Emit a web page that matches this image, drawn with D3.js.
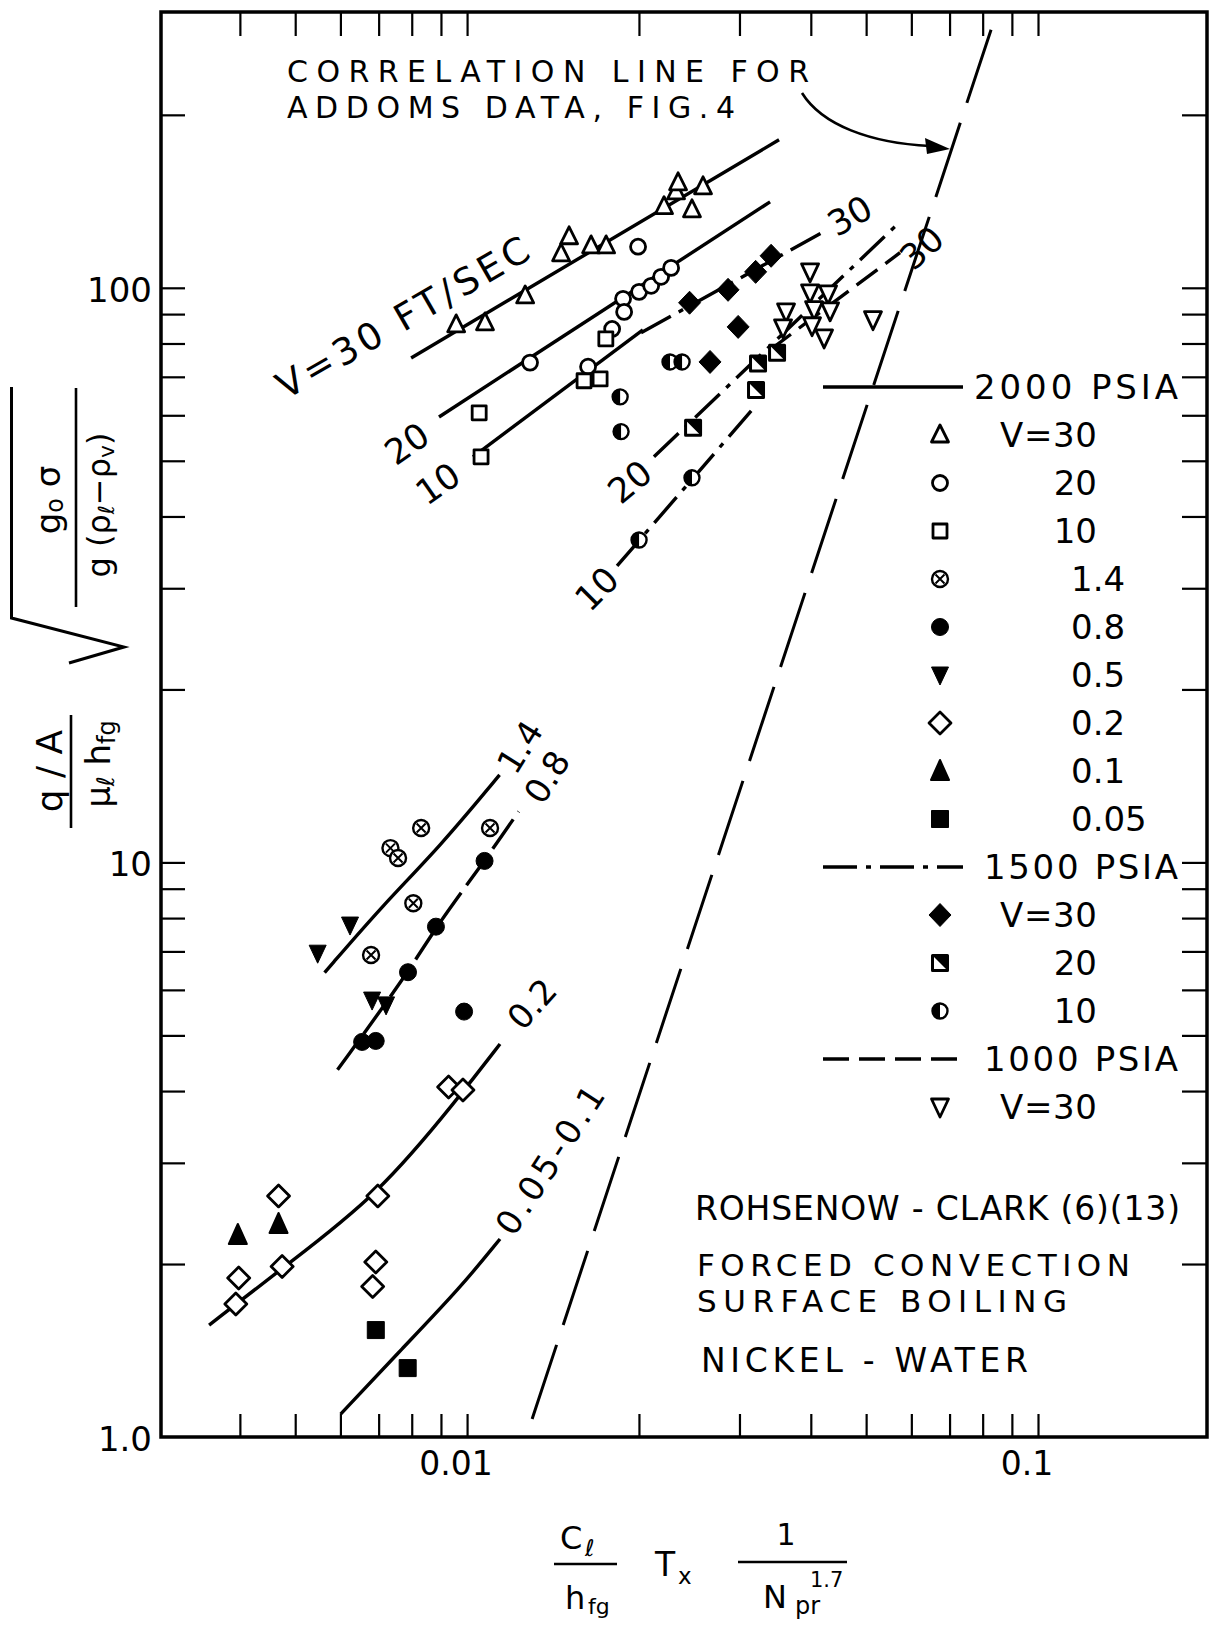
<!DOCTYPE html>
<html>
<head>
<meta charset="utf-8">
<script src="https://cdn.jsdelivr.net/npm/d3@7"></script>
<style>
  body { margin: 0; background: #fff; }
  svg { display: block; }
  text { font-family: "DejaVu Sans", sans-serif; fill: #000; }
</style>
</head>
<body>
<svg id="chart"></svg>
<script>
// axes
const xTicks = [0.004, 0.005, 0.006, 0.007, 0.008, 0.009, 0.01, 0.02, 0.03, 0.04, 0.05, 0.06, 0.07, 0.08, 0.09, 0.1];
const yTicks = [2, 3, 4, 5, 6, 7, 8, 9, 10, 20, 30, 40, 50, 60, 70, 80, 90, 100, 200];
const xLabelValues = [0.01, 0.1];
const xLabelTexts = ["0.01", "0.1"];
const yLabelValues = [1, 10, 100];
const yLabelTexts = ["1.0", "10", "100"];

// 2000 psia points  [x, y]
const p2000v30 = [[0.00957, 86.2], [0.01075, 86.9], [0.01264, 96.8], [0.01461, 114.6], [0.01509, 122.7],
  [0.01649, 118.3], [0.01752, 118.3], [0.02213, 138.4], [0.02323, 146.9], [0.02342, 152.3], [0.02477, 136.7], [0.02590, 149.9]];
const p2000v20 = [[0.01289, 74.1], [0.01629, 72.9], [0.01795, 84.8], [0.01876, 95.7], [0.01884, 90.8], [0.02001, 98.4],
  [0.02101, 100.8], [0.02187, 104.5], [0.02277, 108.3], [0.01993, 117.9]];
const p2000v10 = [[0.01058, 50.8], [0.01050, 60.6], [0.01603, 68.9], [0.01710, 69.4], [0.01750, 81.5]];
const p2000v14 = [[0.007341, 10.59], [0.00757, 10.18], [0.008309, 11.48], [0.008051, 8.49], [0.006789, 6.90], [0.01097, 11.48]];
const p2000v08 = [[0.006549, 4.87], [0.006918, 4.89], [0.00788, 6.44], [0.00882, 7.73], [0.01073, 10.06], [0.00988, 5.50]];
const p2000v05 = [[0.005474, 6.95], [0.006237, 7.78], [0.006818, 5.76], [0.007213, 5.65]];
const p2000v02 = [[0.003935, 1.704], [0.003981, 1.891], [0.004743, 1.981], [0.004675, 2.628], [0.006977, 2.628],
  [0.00692, 2.017], [0.006833, 1.828], [0.009282, 4.067], [0.009836, 4.018]];
const p2000v01 = [[0.003967, 2.247], [0.004675, 2.348]];
const p2000v005 = [[0.00692, 1.535], [0.00787, 1.318]];
// 1500 psia points
const p1500v30 = [[0.02453, 94.2], [0.02865, 99.2], [0.02984, 85.5], [0.03202, 106.6], [0.03408, 113.7], [0.02664, 74.3]];
const p1500v20 = [[0.02488, 57.1], [0.03207, 66.4], [0.03233, 73.8], [0.03491, 77.1]];
const p1500v10 = [[0.01854, 64.6], [0.01861, 56.2], [0.02267, 74.3], [0.0238, 74.3], [0.02001, 36.4], [0.02477, 46.7]];
// 1000 psia points
const p1000v30 = [[0.03988, 106.6], [0.0362, 90.8], [0.03576, 85.2], [0.03988, 98.0], [0.04053, 91.6], [0.0402, 85.9],
  [0.0422, 81.8], [0.04288, 97.6], [0.04323, 91.2], [0.0514, 88.0]];

// correlation curves
const c2000v30 = [[0.00798, 75.5], [0.03519, 181]];
const c2000v20 = [[0.00893, 59.6], [0.03394, 141.1]];
const c2000v10 = [[0.01024, 50.8], [0.02032, 84.5]];
const c2000v14 = [[0.005629, 6.43], [0.00712, 8.43], [0.00897, 10.66], [0.0114, 14.2]];
const c2000v08 = [[0.00593, 4.355], [0.00791, 6.456], [0.00882, 7.73], [0.01071, 10.03], [0.01231, 12.26]];
const c2000v02 = [[0.003533, 1.566], [0.004775, 1.977], [0.006977, 2.628], [0.00972, 3.923], [0.01142, 4.83]];
const c2000v005 = [[0.006005, 1.096], [0.007712, 1.428], [0.00972, 1.816], [0.01142, 2.211]];
const c1500v30 = [[0.02017, 83.5], [0.04185, 124.7]];
const c1500v20 = [[0.02125, 50.8], [0.05686, 129.3]];
const c1500v10 = [[0.01831, 32.8], [0.03156, 61.3]];
const c1000v30 = [[0.03394, 78.0], [0.05732, 115.1]];
const addoms = [[0.013, 1.075], [0.08275, 281.3]];

const legendLabels = ["2000 PSIA", "V=30", "20", "10", "1.4", "0.8", "0.5", "0.2", "0.1", "0.05",
  "1500 PSIA", "V=30", "20", "10", "1000 PSIA", "V=30"];
const legendKinds = ["solid", "triOpen", "circOpen", "sqOpen", "circCross", "circFill", "triDownFill", "diaOpen",
  "triFill", "sqFill", "dashdot", "diaFill", "sqHalf", "circHalf", "dashed", "triDownOpen"];

const W = 1210, H = 1627;
const frame = { left: 161, right: 1207, top: 12, bottom: 1437 };

const svg = d3.select("#chart").attr("width", W).attr("height", H);
svg.append("rect").attr("width", W).attr("height", H).attr("fill", "#fff");

const x = d3.scaleLog().domain([0.00291, 0.1977]).range([frame.left, frame.right]);
const y = d3.scaleLog().domain([1, 302]).range([frame.bottom, frame.top]);

const dashes = { solid: null, dashdot: "34,9,5,9", dashed: "26,10", longdash: "36,9", addoms: "78,21" };

// ticks (pointing inward)
function tickStyle(g) {
  g.select(".domain").remove();
  g.selectAll(".tick line").attr("stroke", "#000").attr("stroke-width", 2.2);
}
svg.append("g").attr("transform", `translate(0,${frame.bottom})`)
  .call(d3.axisBottom(x).tickValues(xTicks).tickSize(-23).tickFormat("")).call(tickStyle);
svg.append("g").attr("transform", `translate(0,${frame.top})`)
  .call(d3.axisTop(x).tickValues(xTicks).tickSize(-24).tickFormat("")).call(tickStyle);
svg.append("g").attr("transform", `translate(${frame.left},0)`)
  .call(d3.axisLeft(y).tickValues(yTicks).tickSize(-24).tickFormat("")).call(tickStyle);
svg.append("g").attr("transform", `translate(${frame.right},0)`)
  .call(d3.axisRight(y).tickValues(yTicks).tickSize(-25).tickFormat("")).call(tickStyle);

svg.append("rect")
  .attr("x", frame.left).attr("y", frame.top)
  .attr("width", frame.right - frame.left).attr("height", frame.bottom - frame.top)
  .attr("fill", "none").attr("stroke", "#000").attr("stroke-width", 3.5);

// tick labels
svg.selectAll(".xlab").data(xLabelValues).join("text")
  .attr("x", d => x(d) - 11).attr("y", frame.bottom + 38)
  .attr("text-anchor", "middle").attr("font-size", 33)
  .text((d, i) => xLabelTexts[i]);
svg.selectAll(".ylab").data(yLabelValues).join("text")
  .attr("x", frame.left - 9).attr("y", d => y(d) + 14)
  .attr("text-anchor", "end").attr("font-size", 34)
  .text((d, i) => yLabelTexts[i]);

// lines
const line = d3.line().x(d => x(d[0])).y(d => y(d[1])).curve(d3.curveBasis);
function drawLine(data, dash, width) {
  svg.append("path").datum(data).attr("d", line)
    .attr("fill", "none").attr("stroke", "#000")
    .attr("stroke-width", width || 3.4)
    .attr("stroke-dasharray", dash);
}
drawLine(addoms, dashes.addoms, 3);
drawLine(c2000v30, dashes.solid);
drawLine(c2000v20, dashes.solid);
drawLine(c2000v10, dashes.solid);
drawLine(c2000v14, dashes.solid);
drawLine(c2000v08, dashes.longdash);
drawLine(c2000v02, dashes.solid);
drawLine(c2000v005, dashes.solid);
drawLine(c1500v30, dashes.dashdot);
drawLine(c1500v20, dashes.dashdot);
drawLine(c1500v10, dashes.dashdot);
drawLine(c1000v30, dashes.dashed);

// markers
function drawMarker(g, type, px, py) {
  const m = g.append("g").attr("transform", `translate(${px},${py})`);
  const open = { fill: "#fff", stroke: "#000", "stroke-width": 2.8, "stroke-linejoin": "round" };
  const solid = { fill: "#000", stroke: "#000", "stroke-width": 1, "stroke-linejoin": "round" };
  const apply = (el, st) => { Object.entries(st).forEach(([k, v]) => el.attr(k, v)); return el; };
  switch (type) {
    case "triOpen": apply(m.append("path").attr("d", "M0,-10L8.5,7L-8.5,7Z"), open); break;
    case "circOpen": apply(m.append("circle").attr("r", 7.5), open); break;
    case "sqOpen": apply(m.append("rect").attr("x", -7).attr("y", -7).attr("width", 14).attr("height", 14), open); break;
    case "circCross":
      apply(m.append("circle").attr("r", 8), open).attr("stroke-width", 2.4);
      m.append("path").attr("d", "M-4.5,-4.5L4.5,4.5M4.5,-4.5L-4.5,4.5").attr("stroke", "#000").attr("stroke-width", 2);
      break;
    case "circFill": apply(m.append("circle").attr("r", 8.5), solid); break;
    case "triDownFill": apply(m.append("path").attr("d", "M0,10L8.5,-8L-8.5,-8Z"), solid); break;
    case "diaOpen": apply(m.append("path").attr("d", "M0,-11L11,0L0,11L-11,0Z"), open); break;
    case "triFill": apply(m.append("path").attr("d", "M0,-11L9,9L-9,9Z"), solid).attr("stroke-width", 2); break;
    case "sqFill": apply(m.append("rect").attr("x", -8.5).attr("y", -8.5).attr("width", 17).attr("height", 17), solid); break;
    case "diaFill": apply(m.append("path").attr("d", "M0,-11.5L11,0L0,11.5L-11,0Z"), solid); break;
    case "sqHalf":
      apply(m.append("rect").attr("x", -7.5).attr("y", -7.5).attr("width", 15).attr("height", 15), open).attr("stroke-width", 3);
      m.append("path").attr("d", "M-7.5,-7.5L7.5,-7.5L7.5,7.5Z").attr("fill", "#000");
      break;
    case "circHalf":
      apply(m.append("circle").attr("r", 7.5), open).attr("stroke-width", 2.4);
      m.append("path").attr("d", "M0,-7.5A7.5,7.5 0 0 0 0,7.5Z").attr("fill", "#000");
      break;
    case "triDownOpen": apply(m.append("path").attr("d", "M0,10L8.5,-8L-8.5,-8Z"), open); break;
  }
}
const gPts = svg.append("g");
function drawSeries(data, type) {
  data.forEach(d => drawMarker(gPts, type, x(d[0]), y(d[1])));
}
drawSeries(p2000v30, "triOpen");
drawSeries(p2000v20, "circOpen");
drawSeries(p2000v10, "sqOpen");
drawSeries(p2000v14, "circCross");
drawSeries(p2000v08, "circFill");
drawSeries(p2000v05, "triDownFill");
drawSeries(p2000v02, "diaOpen");
drawSeries(p2000v01, "triFill");
drawSeries(p2000v005, "sqFill");
drawSeries(p1500v30, "diaFill");
drawSeries(p1500v20, "sqHalf");
drawSeries(p1500v10, "circHalf");
drawSeries(p1000v30, "triDownOpen");

// curve labels
function rotLabel(txt, cx, cy, angle, size, len) {
  const t = svg.append("text")
    .attr("transform", `translate(${cx},${cy}) rotate(${angle})`)
    .attr("text-anchor", "middle").attr("dominant-baseline", "central")
    .attr("font-size", size || 35).text(txt);
  if (len) t.attr("textLength", len).attr("lengthAdjust", "spacing");
}
rotLabel("V=30 FT/SEC", 403, 318, -30, 37, 285);
rotLabel("20", 407, 444, -35);
rotLabel("10", 438, 484, -35);
rotLabel("30", 850, 216, -30);
rotLabel("30", 922, 248, -42);
rotLabel("20", 630, 482, -40);
rotLabel("10", 597, 589, -45);
rotLabel("1.4", 520, 747, -58, 34);
rotLabel("0.8", 547, 777, -58, 34);
rotLabel("0.2", 532, 1004, -48, 34);
rotLabel("0.05-0.1", 550, 1160, -57, 34, 170);

// legend
const legendX0 = 823, legendX1 = 963, legendMarkX = 940, legendY0 = 387, legendStep = 48;
legendLabels.forEach((lab, i) => {
  const yy = legendY0 + i * legendStep;
  const kind = legendKinds[i];
  if (kind in dashes) {
    svg.append("line").attr("x1", legendX0).attr("x2", legendX1).attr("y1", yy).attr("y2", yy)
      .attr("stroke", "#000").attr("stroke-width", 3.6).attr("stroke-dasharray", dashes[kind]);
  } else {
    drawMarker(svg, kind, legendMarkX, yy);
  }
  const t = svg.append("text").attr("y", yy + 12).attr("font-size", 34).text(lab);
  if (lab.includes("PSIA")) {
    t.attr("x", 1178).attr("text-anchor", "end").attr("textLength", lab[0] === "2" ? 204 : 194).attr("lengthAdjust", "spacing");
  } else if (lab.startsWith("V")) {
    t.attr("x", 1000).attr("textLength", 97).attr("lengthAdjust", "spacing");
  } else if (+lab >= 10) {
    t.attr("x", 1097).attr("text-anchor", "end");
  } else {
    t.attr("x", 1071);
  }
});

// annotations
function note(txt, x0, base, len, size) {
  svg.append("text").attr("x", x0).attr("y", base).attr("font-size", size)
    .attr("textLength", len).attr("lengthAdjust", "spacing").text(txt);
}
note("CORRELATION LINE FOR", 287, 82, 522, 30);
note("ADDOMS DATA, FIG.4", 287, 118, 448, 30);
note("ROHSENOW - CLARK (6)(13)", 695, 1220, 485, 33);
note("FORCED  CONVECTION", 697, 1276, 433, 31);
note("SURFACE  BOILING", 697, 1312, 370, 31);
note("NICKEL - WATER", 701, 1372, 327, 33);

// arrow to the correlation line
svg.append("path").attr("d", "M802,93 C822,125 870,143 930,146")
  .attr("fill", "none").attr("stroke", "#000").attr("stroke-width", 2.6);
svg.append("path").attr("d", "M950,149 L925,138 L927,154 Z").attr("fill", "#000");

// x axis title
const xt = svg.append("g");
xt.append("text").attr("x", 560).attr("y", 1549).attr("font-size", 32).text("C");
xt.append("text").attr("x", 585).attr("y", 1556).attr("font-size", 23).attr("font-style", "italic").text("ℓ");
xt.append("line").attr("x1", 554).attr("x2", 617).attr("y1", 1564).attr("y2", 1564).attr("stroke", "#000").attr("stroke-width", 2.6);
xt.append("text").attr("x", 565).attr("y", 1609).attr("font-size", 32).text("h");
xt.append("text").attr("x", 588).attr("y", 1614).attr("font-size", 22).text("fg");
xt.append("text").attr("x", 655).attr("y", 1576).attr("font-size", 33).text("T");
xt.append("text").attr("x", 678).attr("y", 1584).attr("font-size", 23).text("x");
xt.append("text").attr("x", 786).attr("y", 1545).attr("text-anchor", "middle").attr("font-size", 30).text("1");
xt.append("line").attr("x1", 738).attr("x2", 847).attr("y1", 1562).attr("y2", 1562).attr("stroke", "#000").attr("stroke-width", 2.6);
xt.append("text").attr("x", 763).attr("y", 1608).attr("font-size", 32).text("N");
xt.append("text").attr("x", 810).attr("y", 1587).attr("font-size", 21).text("1.7");
xt.append("text").attr("x", 795).attr("y", 1614).attr("font-size", 24).text("pr");

// y axis title (rotated)
const yt = svg.append("g").attr("transform", "rotate(-90)");
// group coords: (gx, gy) -> page (gy, -gx)
yt.append("text").attr("x", -771).attr("y", 62).attr("text-anchor", "middle").attr("font-size", 36).text("q / A");
yt.append("line").attr("x1", -828).attr("x2", -715).attr("y1", 71).attr("y2", 71).attr("stroke", "#000").attr("stroke-width", 2.6);
yt.append("text").attr("x", -764).attr("y", 110).attr("text-anchor", "middle").attr("font-size", 34)
  .html('μ<tspan font-size="24" font-style="italic" dy="4">ℓ</tspan><tspan dy="-4"> h</tspan><tspan font-size="24" dy="5">fg</tspan>');
yt.append("text").attr("x", -500).attr("y", 60).attr("text-anchor", "middle").attr("font-size", 34)
  .html('g<tspan font-size="24" dy="3">o</tspan><tspan dy="-3"> σ</tspan>');
yt.append("line").attr("x1", -607).attr("x2", -388).attr("y1", 76).attr("y2", 76).attr("stroke", "#000").attr("stroke-width", 2.6);
yt.append("text").attr("x", -505).attr("y", 110).attr("text-anchor", "middle").attr("font-size", 32)
  .html('g (ρ<tspan font-size="22" font-style="italic" dy="4">ℓ</tspan><tspan dy="-4">−ρ</tspan><tspan font-size="22" dy="4">v</tspan><tspan dy="-4">)</tspan>');
svg.append("path").attr("d", "M11.5,387 L11.5,618 L124,647 L69,663")
  .attr("fill", "none").attr("stroke", "#000").attr("stroke-width", 3).attr("stroke-linejoin", "miter");
</script>
</body>
</html>
